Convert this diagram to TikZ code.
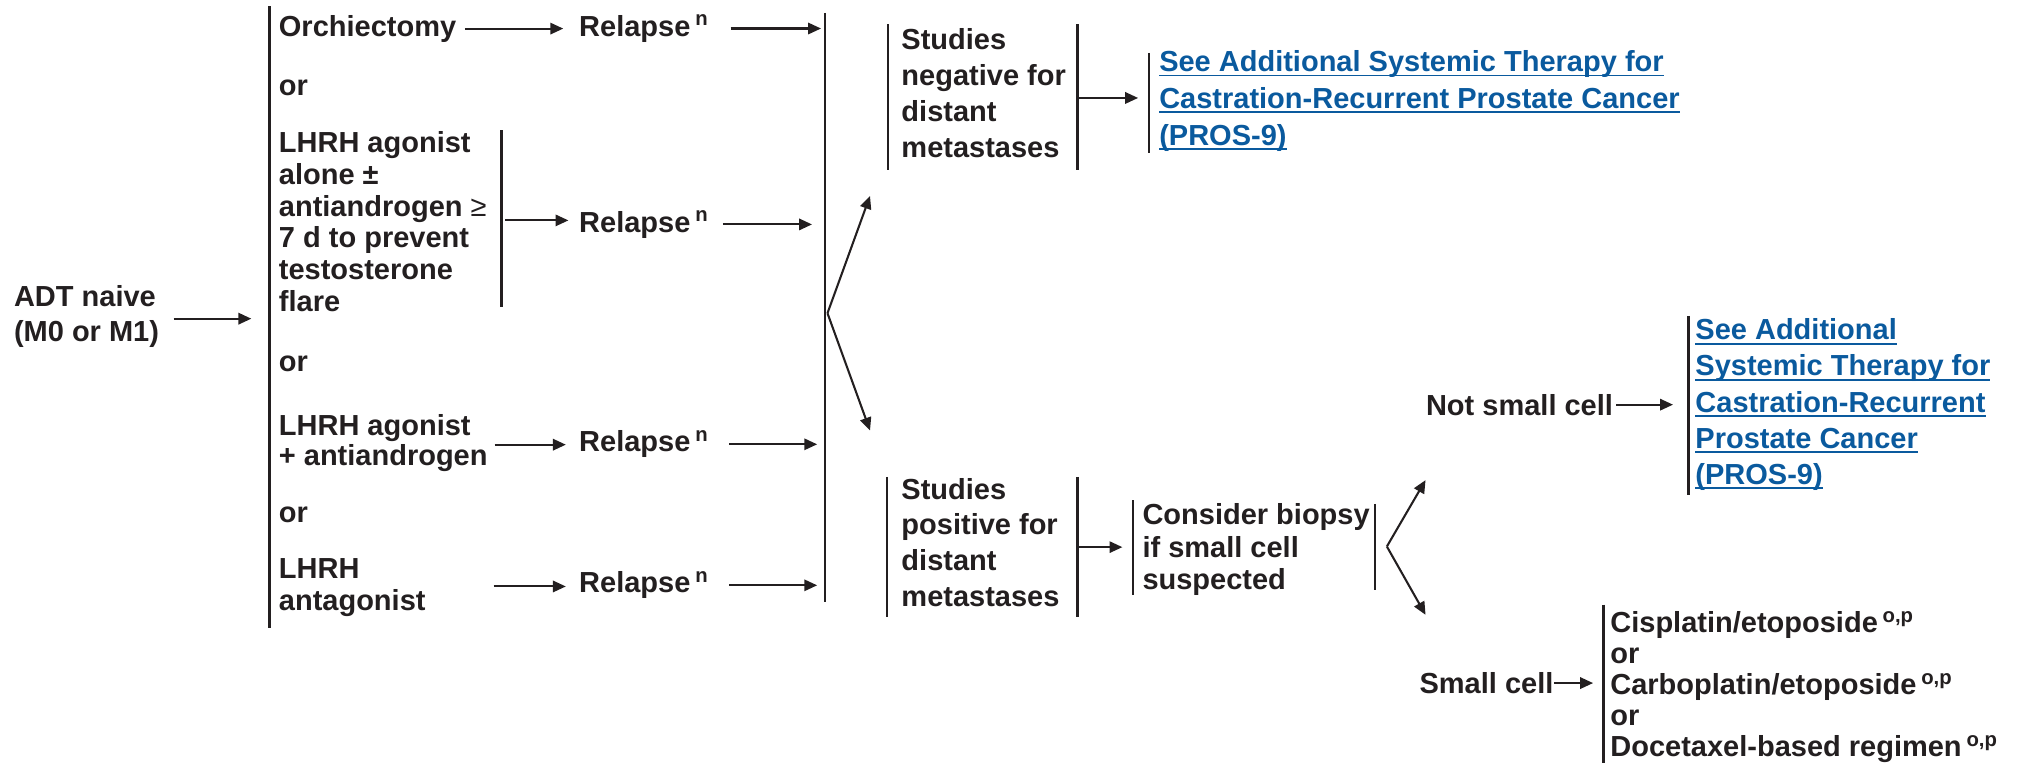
\documentclass[tikz,border=0pt]{standalone}
\usepackage{fontspec}
\setmainfont{Liberation Sans}
\usetikzlibrary{arrows.meta}
\definecolor{ink}{RGB}{35,31,32}
\definecolor{linkblue}{RGB}{10,90,158}
\newcommand\lnkline[1]{\setbox0\hbox{#1}\rlap{\rule[-1.8pt]{\wd0}{0.65pt}}\box0}
\tikzset{
  txt/.style={font=\fontsize{11.25}{#1}\selectfont\bfseries, text=ink, inner sep=0pt,
    align=left, anchor=north west, execute at begin node=\strut},
  txt/.default=12.3pt,
  one/.style={font=\fontsize{11.25}{13}\selectfont\bfseries, text=ink, inner sep=0pt, anchor=base west},
  bar/.style={draw=ink, line width=0.9pt},
  arr/.style={draw=ink, line width=0.8pt, -{Triangle[length=5pt,width=4.4pt]}},
  link/.style={text=linkblue}}

\begin{document}
\begin{tikzpicture}[x=0.5pt, y=-0.5pt]
\useasboundingbox (0,0) rectangle (1568,593.6);

% first column
\node[txt=13.3pt] (adt) at (10.5,221.4) {ADT naive\\(M0 or M1)};
\draw[bar] (209,5) -- (209,487);
\coordinate (lbar) at (209,245);
\draw[arr, shorten <=5.5pt, shorten >=7pt] (adt.east) -- (adt.east -| lbar);

\node[one] (orch) at (216,28) {Orchiectomy};
\node[one] (or1) at (216,74) {or};
\node[txt] (agon) at (216,101.8) {LHRH agonist\\alone ±\\antiandrogen {\mdseries ≥}\\7 d to prevent\\testosterone\\flare};
\draw[bar] (389,101) -- (389,238);
\node[one] (or2) at (216,288.5) {or};
\node[txt=11.5pt] (agcomb) at (216,321.5) {LHRH agonist\\+ antiandrogen};
\node[one] (or3) at (216,405) {or};
\node[txt] (antag) at (216,432.8) {LHRH\\antagonist};

% relapse column
\node[one] (rel1) at (449,28) {Relapse\,\textsuperscript{n}};
\node[one] (rel2) at (449,180) {Relapse\,\textsuperscript{n}};
\node[one] (rel3) at (449,350.6) {Relapse\,\textsuperscript{n}};
\node[one] (rel4) at (449,460) {Relapse\,\textsuperscript{n}};

\coordinate (agbar) at (389,171);
\coordinate (s4) at (383,455);
\draw[arr, shorten <=3.2pt, shorten >=6pt] (orch.east) -- (orch.east -| rel1.west);
\draw[arr, shorten <=1.5pt, shorten >=4pt] (agbar) -- (agbar -| rel2.west);
\draw[arr, shorten <=2.5pt, shorten >=5pt] (agcomb.east) -- (agcomb.east -| rel3.west);
\draw[arr, shorten >=5pt] (s4) -- (s4 -| rel4.west);

\draw[bar] (640,10) -- (640,467);
\coordinate (jbar) at (640,245);
\draw[arr, shorten <=8.2pt, shorten >=1.5pt] (rel1.east) -- (rel1.east -| jbar);
\draw[arr, shorten <=5.2pt, shorten >=5pt] (rel2.east) -- (rel2.east -| jbar);
\draw[arr, shorten <=7.7pt, shorten >=3pt] (rel3.east) -- (rel3.east -| jbar);
\draw[arr, shorten <=7.7pt, shorten >=3pt] (rel4.east) -- (rel4.east -| jbar);

\coordinate (fork1) at (642,243);
\coordinate (up1) at (675,152);
\coordinate (dn1) at (675,334);
\draw[arr] (fork1) -- (up1);
\draw[arr] (fork1) -- (dn1);

% studies
\node[txt=14pt] (neg) at (699,21.4) {Studies\\negative for\\distant\\metastases};
\draw[bar] (689,19) -- (689,132);
\draw[bar] (836,19) -- (836,132);
\node[txt=14.25pt, link] (see1) at (899,39) {\lnkline{See Additional Systemic Therapy for}\\\lnkline{Castration-Recurrent Prostate Cancer}\\\lnkline{(PROS-9)}};
\draw[bar] (891.5,41) -- (891.5,119);
\coordinate (negbar) at (836,76);
\draw[arr, shorten <=0.5pt, shorten >=8pt] (negbar) -- (negbar -| see1.west);

\node[txt=13.85pt] (pos) at (699,370.6) {Studies\\positive for\\distant\\metastases};
\draw[bar] (688,370) -- (688,479);
\draw[bar] (836,370) -- (836,479);
\node[txt=12.5pt] (cons) at (886,390.5) {Consider biopsy\\if small cell\\suspected};
\draw[bar] (879,388) -- (879,462);
\draw[bar] (1067,391) -- (1067,458);
\coordinate (posbar) at (836,424.5);
\draw[arr, shorten <=0.5pt, shorten >=7.6pt] (posbar) -- (posbar -| cons.west);

\coordinate (fork2) at (1076,424);
\coordinate (up2) at (1106,372.5);
\coordinate (dn2) at (1106,477);
\draw[arr] (fork2) -- (up2);
\draw[arr] (fork2) -- (dn2);

% small cell or not
\node[one] (notsc) at (1106,322) {Not small cell};
\node[txt=14pt, link] (see2) at (1315,247) {\lnkline{See Additional}\\\lnkline{Systemic Therapy for}\\\lnkline{Castration-Recurrent}\\\lnkline{Prostate Cancer}\\\lnkline{(PROS-9)}};
\draw[bar] (1310,245) -- (1310,384);
\draw[arr, shorten <=1pt, shorten >=8.5pt] (notsc.east) -- (notsc.east -| see2.west);

\node[one] (smallc) at (1101,538) {Small cell};
\node[txt=12pt] (chemo) at (1249,474.2) {Cisplatin/etoposide\,\textsuperscript{o,p}\\or\\Carboplatin/etoposide\,\textsuperscript{o,p}\\or\\Docetaxel-based regimen\,\textsuperscript{o,p}};
\draw[bar] (1244,469) -- (1244,592);
\draw[arr, shorten >=6.5pt] (smallc.east) -- (smallc.east -| chemo.west);

\end{tikzpicture}
\end{document}
